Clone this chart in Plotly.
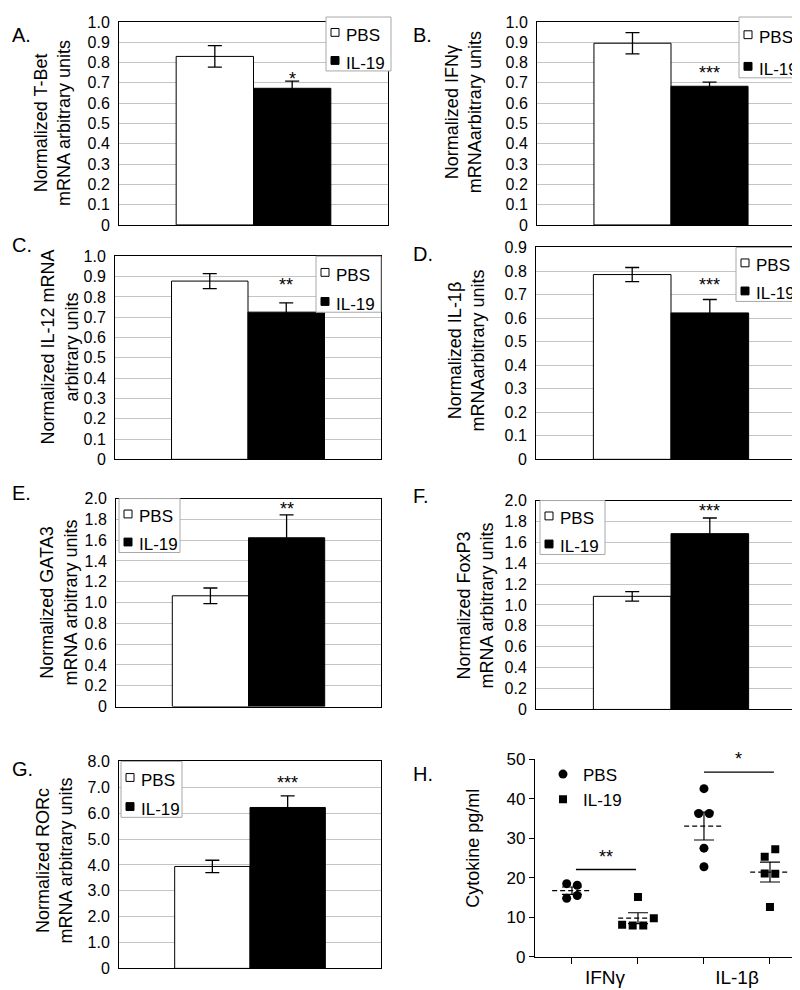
import numpy as np
import plotly.graph_objects as go

W, H = 800, 990
FONT = "Liberation Sans, Arial, sans-serif"

# ---------------- data: bar panels A-G ----------------
panel_labels = ["A.", "B.", "C.", "D.", "E.", "F.", "G."]
y_titles = [
    "Normalized T-Bet<br>mRNA arbitrary units",
    "Normalized IFNγ<br>mRNAarbitrary units",
    "Normalized IL-12 mRNA<br>arbitrary units",
    "Normalized IL-1β<br>mRNAarbitrary units",
    "Normalized GATA3<br>mRNA arbitrary units",
    "Normalized FoxP3<br>mRNA arbitrary units",
    "Normalized RORc<br>mRNA arbitrary units",
]
groups = ["PBS", "IL-19"]
pbs_mean = [0.83, 0.895, 0.878, 0.785, 1.065, 1.083, 3.94]
pbs_err = [0.053, 0.052, 0.037, 0.03, 0.075, 0.045, 0.24]
il19_mean = [0.673, 0.683, 0.725, 0.622, 1.623, 1.683, 6.22]
il19_err = [0.035, 0.02, 0.046, 0.057, 0.22, 0.15, 0.45]
stars = ["*", "***", "**", "***", "**", "***", "***"]
star_y = [0.72, 0.75, 0.86, 0.74, 1.90, 1.90, 7.16]

ticks_1 = [0, 0.1, 0.2, 0.3, 0.4, 0.5, 0.6, 0.7, 0.8, 0.9, 1.0]
ticktext_1 = ["0", "0.1", "0.2", "0.3", "0.4", "0.5", "0.6", "0.7", "0.8", "0.9", "1.0"]
ticks_09 = [0, 0.1, 0.2, 0.3, 0.4, 0.5, 0.6, 0.7, 0.8, 0.9]
ticktext_09 = ["0", "0.1", "0.2", "0.3", "0.4", "0.5", "0.6", "0.7", "0.8", "0.9"]
ticks_2 = [0, 0.2, 0.4, 0.6, 0.8, 1.0, 1.2, 1.4, 1.6, 1.8, 2.0]
ticktext_2 = ["0", "0.2", "0.4", "0.6", "0.8", "1.0", "1.2", "1.4", "1.6", "1.8", "2.0"]
ticks_8 = [0, 1, 2, 3, 4, 5, 6, 7, 8]
ticktext_8 = ["0", "1.0", "2.0", "3.0", "4.0", "5.0", "6.0", "7.0", "8.0"]
panel_ticks = [ticks_1, ticks_1, ticks_1, ticks_09, ticks_2, ticks_2, ticks_8]
panel_ticktext = [ticktext_1, ticktext_1, ticktext_1, ticktext_09, ticktext_2, ticktext_2, ticktext_8]

# ---------------- data: panel H ----------------
h_categories = ["IFNγ", "IL-1β"]
h_positions = [1, 2, 3, 4]  # IFNγ PBS, IFNγ IL-19, IL-1β PBS, IL-1β IL-19
h_pbs_ifng = [18.5, 18.1, 14.8, 15.5]
h_pbs_ifng_jit = [-0.08, 0.08, -0.08, 0.08]
h_il19_ifng = [15.1, 8.1, 7.9, 7.9, 9.7]
h_il19_ifng_jit = [0.0, -0.24, -0.08, 0.08, 0.24]
h_pbs_il1b = [42.6, 36.3, 36.3, 27.5, 22.8]
h_pbs_il1b_jit = [0.0, -0.08, 0.08, 0.0, 0.0]
h_il19_il1b = [25.3, 27.2, 21.1, 21.0, 12.6]
h_il19_il1b_jit = [-0.08, 0.08, -0.08, 0.08, 0.0]
h_sig_x0 = [1.06, 3.0]
h_sig_x1 = [1.97, 4.06]
h_sig_y = [22.1, 46.8]
h_sig_text = ["**", "*"]
h_sig_text_y = [25.2, 50.0]
h_yticks = [0, 10, 20, 30, 40, 50]

# ---------------- layout (pixels) ----------------
boxes = [(111, 380, 5, 212), (529, 797, 5, 212), (107, 373, 244, 451), (528, 798, 235, 451),
         (108, 373, 491, 703), (528, 798, 493, 706), (111, 373, 759, 970)]
box_h = (527, 793, 757, 958)
legend_boxes = [(318, 0, 383, 55), (731, 0, 801, 62), (308, 244, 373, 301), (728, 235, 797, 290),
                (111, 491, 172, 546), (532, 493, 597, 548), (113, 759, 174, 816)]
label_pos = [(2, 18), (403, 18), (2, 232), (403, 242), (2, 485), (403, 488), (2, 767), (403, 772)]
title_pos = [(45, 108), (455, 97), (52, 337), (458, 340), (51, 597), (467, 600), (46, 860), (465, 848)]

BARGAP = 0.425


def px_x(v):
    return v / W


def px_y(v):
    return 1 - v / H


fig = go.Figure()
layout = dict(
    width=W, height=H, margin=dict(l=0, r=0, t=0, b=0),
    paper_bgcolor="white", plot_bgcolor="white",
    font=dict(family=FONT, size=16, color="black"),
    barmode="group", bargap=BARGAP, bargroupgap=0,
    annotations=[], shapes=[],
)

grid = "#c4c4c4"
fills = ["white", "black"]

for i in range(7):
    n = i + 1
    xa = "x" if n == 1 else f"x{n}"
    ya = "y" if n == 1 else f"y{n}"
    x0, x1, y0, y1 = boxes[i]
    fig.add_trace(go.Bar(
        x=[0], y=[pbs_mean[i]], name=groups[0], xaxis=xa, yaxis=ya,
        marker=dict(color=fills[0], line=dict(color="black", width=1)),
        error_y=dict(type="data", array=[pbs_err[i]], color="black", thickness=1.3, width=7),
        showlegend=False,
    ))
    fig.add_trace(go.Bar(
        x=[0], y=[il19_mean[i]], name=groups[1], xaxis=xa, yaxis=ya,
        marker=dict(color=fills[1], line=dict(color="black", width=1)),
        error_y=dict(type="data", array=[il19_err[i]], color="black", thickness=1.3, width=7),
        showlegend=False,
    ))
    layout["xaxis" if n == 1 else f"xaxis{n}"] = dict(
        domain=[px_x(x0), px_x(x1)], anchor=ya, range=[-0.5, 0.5],
        showticklabels=False, ticks="", showgrid=False, zeroline=False,
        showline=True, mirror=True, linecolor="black", linewidth=1,
    )
    layout["yaxis" if n == 1 else f"yaxis{n}"] = dict(
        domain=[px_y(y1), px_y(y0)], anchor=xa,
        range=[0, panel_ticks[i][-1]], tickvals=panel_ticks[i], ticktext=panel_ticktext[i],
        ticks="outside", ticklen=5, tickcolor="rgba(0,0,0,0)",
        showgrid=True, gridcolor=grid, gridwidth=1, zeroline=False,
        showline=True, mirror=True, linecolor="black", linewidth=1,
        tickfont=dict(size=16),
    )
    # legend box (drawn like the spreadsheet legend)
    bx0, by0, bx1, by1 = legend_boxes[i]
    bh = by1 - by0
    layout["shapes"].append(dict(
        type="rect", xref="paper", yref="paper", x0=px_x(bx0), x1=px_x(bx1),
        y0=px_y(by1), y1=px_y(by0), line=dict(color="#a8a8a8", width=1), fillcolor="white",
    ))
    for k, (g, f) in enumerate(zip(groups, fills)):
        ty = by0 + (0.34 if k == 0 else 0.86) * bh
        sx, sy = bx0 + 9, ty - 3
        layout["shapes"].append(dict(
            type="rect", xref="paper", yref="paper", x0=px_x(sx - 4), x1=px_x(sx + 4),
            y0=px_y(sy + 4), y1=px_y(sy - 4), line=dict(color="black", width=1), fillcolor=f,
        ))
        layout["annotations"].append(dict(
            x=px_x(bx0 + 18), y=px_y(ty), xref="paper", yref="paper", text=g,
            showarrow=False, font=dict(size=17), xanchor="left", yanchor="middle",
        ))
    # significance stars over the IL-19 bar
    layout["annotations"].append(dict(
        x=(1 - BARGAP) / 4, y=star_y[i], xref=xa, yref=ya, text=stars[i],
        showarrow=False, font=dict(size=18), xanchor="center", yanchor="middle",
    ))

# ---------------- panel H ----------------
xa, ya = "x8", "y8"
pbs_x = [h_positions[0] + j for j in h_pbs_ifng_jit] + [h_positions[2] + j for j in h_pbs_il1b_jit]
pbs_y = h_pbs_ifng + h_pbs_il1b
il_x = [h_positions[1] + j for j in h_il19_ifng_jit] + [h_positions[3] + j for j in h_il19_il1b_jit]
il_y = h_il19_ifng + h_il19_il1b

sets = [h_pbs_ifng, h_il19_ifng, h_pbs_il1b, h_il19_il1b]
means = [float(np.mean(s)) for s in sets]
sems = [float(np.std(s, ddof=1) / np.sqrt(len(s))) for s in sets]

for p, m in zip(h_positions, means):
    fig.add_trace(go.Scatter(
        x=[p - 0.3, p + 0.3], y=[m, m], mode="lines", xaxis=xa, yaxis=ya,
        line=dict(color="black", width=1.2, dash="5px,3px"), showlegend=False, hoverinfo="skip",
    ))
fig.add_trace(go.Scatter(
    x=h_positions, y=means, mode="markers", xaxis=xa, yaxis=ya,
    marker=dict(size=1, color="rgba(0,0,0,0)"),
    error_y=dict(type="data", array=sems, color="black", thickness=1.2, width=10),
    showlegend=False, hoverinfo="skip",
))
fig.add_trace(go.Scatter(
    x=pbs_x, y=pbs_y, mode="markers", name=groups[0], xaxis=xa, yaxis=ya,
    marker=dict(symbol="circle", size=9, color="black"),
))
fig.add_trace(go.Scatter(
    x=il_x, y=il_y, mode="markers", name=groups[1], xaxis=xa, yaxis=ya,
    marker=dict(symbol="square", size=8, color="black"),
))
for k in range(len(h_sig_y)):
    fig.add_trace(go.Scatter(
        x=[h_sig_x0[k], h_sig_x1[k]], y=[h_sig_y[k], h_sig_y[k]], mode="lines",
        xaxis=xa, yaxis=ya, line=dict(color="black", width=1.3), showlegend=False, hoverinfo="skip",
    ))
    layout["annotations"].append(dict(
        x=(h_sig_x0[k] + h_sig_x1[k]) / 2, y=h_sig_text_y[k], xref=xa, yref=ya,
        text=h_sig_text[k], showarrow=False, font=dict(size=18),
        xanchor="center", yanchor="middle",
    ))

hx0, hx1, hy0, hy1 = box_h
layout["xaxis8"] = dict(
    domain=[px_x(hx0), px_x(hx1)], anchor=ya, range=[0.44, 4.47],
    tickvals=[1.5, 3.5], ticktext=h_categories, tickfont=dict(size=19),
    ticks="outside", ticklen=3, tickcolor="rgba(0,0,0,0)",
    minor=dict(tickmode="array", tickvals=h_positions, ticks="outside", ticklen=6,
               tickcolor="black", tickwidth=1, showgrid=False),
    showgrid=False, zeroline=False, showline=True, linecolor="black", linewidth=1.2,
)
layout["yaxis8"] = dict(
    domain=[px_y(hy1), px_y(hy0)], anchor=xa, range=[0, 50],
    tickvals=h_yticks, tickfont=dict(size=17),
    ticks="outside", ticklen=5, tickcolor="black", tickwidth=1,
    showgrid=False, zeroline=False, showline=True, linecolor="black", linewidth=1.2,
)
layout["showlegend"] = True
layout["legend"] = dict(
    x=px_x(535), y=px_y(754), xanchor="left", yanchor="top",
    bgcolor="rgba(0,0,0,0)", borderwidth=0, font=dict(size=17), itemwidth=30,
    tracegroupgap=0,
)

# ---------------- panel letters and y titles ----------------
all_labels = panel_labels + ["H."]
all_titles = y_titles + ["Cytokine pg/ml"]
for (lx, ly), lab in zip(label_pos, all_labels):
    layout["annotations"].append(dict(
        x=px_x(lx), y=px_y(ly), xref="paper", yref="paper", text=lab, showarrow=False,
        font=dict(size=20), xanchor="left", yanchor="middle",
    ))
for (tx, ty), t in zip(title_pos, all_titles):
    layout["annotations"].append(dict(
        x=px_x(tx), y=px_y(ty), xref="paper", yref="paper", text=t, showarrow=False,
        font=dict(size=18), textangle=-90, xanchor="center", yanchor="middle",
    ))

fig.update_layout(**layout)
fig.write_html("out.html")
